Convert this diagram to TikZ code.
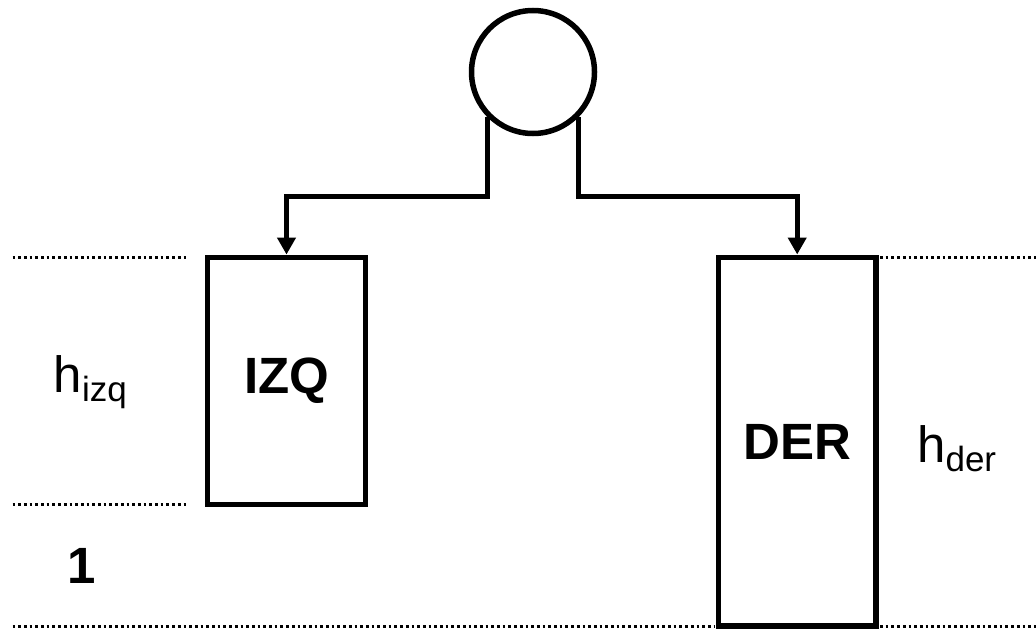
\documentclass[tikz,border=0pt]{standalone}
\usepackage{fontspec}
\setmainfont{Liberation Sans}
\usetikzlibrary{arrows.meta,positioning}
\definecolor{inkblack}{HTML}{000000}
\tikzset{
  tank/.style={draw=inkblack, line width=5.5pt, fill=white, inner sep=0pt,
               font=\fontsize{51}{60}\selectfont\bfseries},
  pump/.style={circle, draw=inkblack, line width=5.5pt, minimum size=123pt,
               inner sep=0pt},
  feed/.style={-{Triangle[length=17pt,width=18pt]}, line width=5pt,
               draw=inkblack},
  dotline/.style={line width=2.7pt, draw=inkblack,
                  dash pattern=on 2.7pt off 3pt},
  hlbl/.style={font=\fontsize{51}{60}\selectfont, inner sep=0pt,
               anchor=base west},
}
\newcommand{\hsub}[1]{\raisebox{-9pt}{\fontsize{35}{40}\selectfont #1}}

\begin{document}
\begin{tikzpicture}[x=1pt, y=-1pt]
\useasboundingbox (0,0) rectangle (1036,629);

% ------------------------- source ---------------------------------------
\node[pump] at (533,72) (src) {};
\coordinate (split) at (533,196);

% ------------------------- tanks ----------------------------------------
\node[tank, minimum width=158pt, minimum height=247pt] at (286.5,380.8) (izq)
   {IZQ};
\node[tank, minimum width=157.5pt, minimum height=368.7pt] at (797.2,441.6) (der)
   {DER};
\draw[feed] (src.-135) -- (src.-135 |- split) -| (izq.north);
\draw[feed] (src.-45)  -- (src.-45 |- split)  -| (der.north);

% ------------------------- levels ---------------------------------------
\draw[dotline] (12.5,257.3) -- (187,257.3);
\draw[dotline] (12.5,504.5) -- (187,504.5);
\draw[dotline] (880,257.3) -- (1036,257.3);
\draw[dotline] (12.5,626.5) -- (715,626.5);
\draw[dotline] (880,626.5) -- (1036,626.5);

% ------------------------- labels ---------------------------------------
\node[hlbl] at (53.5,392) (hizq) {h\hsub{izq}};
\node[hlbl] at (917,462) (hder) {h\hsub{der}};
\node[font=\fontsize{51}{60}\selectfont\bfseries, inner sep=0pt, anchor=base]
   at (82,583) (one) {1};
\end{tikzpicture}
\end{document}
